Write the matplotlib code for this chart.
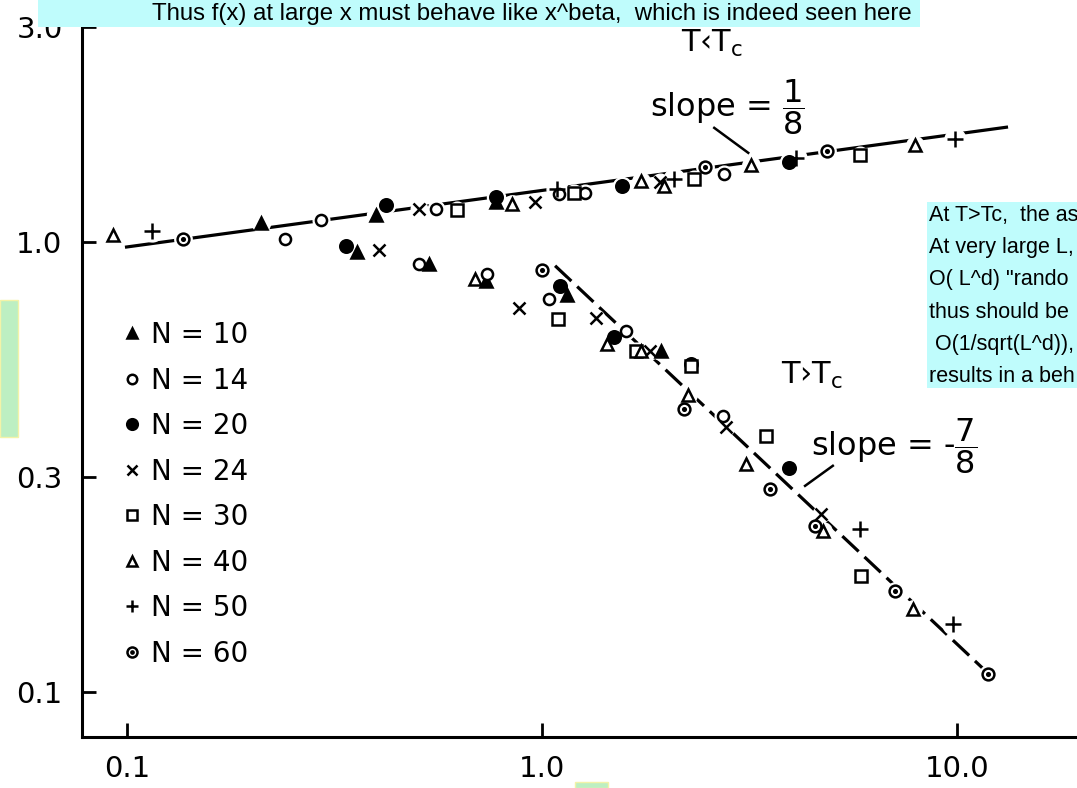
import matplotlib
matplotlib.use('Agg')
import matplotlib.pyplot as plt
from matplotlib.patches import Rectangle
from matplotlib.path import Path
from matplotlib.ticker import NullLocator

plt.rcParams['font.family'] = ['DejaVu Sans']
plt.rcParams['mathtext.fontset'] = 'dejavusans'

# ---------------- data ----------------
# both branches (T<Tc upper, T>Tc lower) share the marker of each N
x_N10 = [0.211, 0.399, 0.775, 0.359, 0.535, 0.733, 1.148, 1.943]
y_N10 = [1.102, 1.148, 1.227, 0.950, 0.894, 0.819, 0.762, 0.573]

x_N14 = [0.241, 0.294, 0.556, 1.099, 1.269, 2.754, 0.506, 0.738, 1.039, 1.592, 2.738]
y_N14 = [1.016, 1.119, 1.184, 1.278, 1.285, 1.416, 0.894, 0.849, 0.747, 0.634, 0.411]

x_N20 = [0.422, 0.775, 1.557, 3.945, 0.338, 1.105, 1.490, 2.294, 3.945]
y_N20 = [1.208, 1.259, 1.332, 1.506, 0.980, 0.798, 0.615, 0.536, 0.315]

x_N24 = [0.506, 0.962, 1.932, 0.406, 0.880, 1.349, 1.828, 2.785, 4.710]
y_N24 = [1.184, 1.227, 1.359, 0.960, 0.713, 0.678, 0.573, 0.388, 0.249]

x_N30 = [0.625, 1.194, 2.332, 5.846, 1.093, 1.683, 2.294, 3.475, 5.880]
y_N30 = [1.178, 1.285, 1.380, 1.561, 0.674, 0.573, 0.530, 0.371, 0.181]

x_N40 = [0.0925, 0.847, 1.739, 1.975, 3.197, 7.930, 0.690, 1.433, 1.739, 2.256, 3.110, 4.760, 7.840]
y_N40 = [1.036, 1.215, 1.366, 1.332, 1.483, 1.643, 0.828, 0.593, 0.573, 0.457, 0.321, 0.228, 0.153]

x_N50 = [0.1148, 1.087, 2.088, 4.100, 9.890, 5.850, 9.780]
y_N50 = [1.058, 1.311, 1.380, 1.537, 1.694, 0.230, 0.1416]

x_N60 = [0.1363, 2.479, 4.870, 1.000, 2.207, 3.552, 4.557, 7.096, 11.870]
y_N60 = [1.016, 1.468, 1.593, 0.867, 0.426, 0.283, 0.234, 0.168, 0.1096]

# guide lines (slope 1/8 below Tc, slope -7/8 above Tc)
upper_fit_x = [0.099, 13.3]
upper_fit_y = [0.973, 1.80]
lower_fit_x = [1.077, 11.6]
lower_fit_y = [0.885, 0.1125]

x_ticks = [0.1, 1.0, 10.0]
x_tick_labels = ['0.1', '1.0', '10.0']
y_ticks = [0.1, 0.3, 1.0, 3.0]
y_tick_labels = ['0.1', '0.3', '1.0', '3.0']

N_labels = ['N = 10', 'N = 14', 'N = 20', 'N = 24', 'N = 30', 'N = 40', 'N = 50', 'N = 60']

# ---------------- figure ----------------
fig = plt.figure(figsize=(10.77, 7.88), dpi=100)
fig.patch.set_facecolor('white')
ax = fig.add_axes([82 / 1077, 51 / 788, 1 - 82 / 1077, (737 - 5) / 788])
ax.set_xscale('log')
ax.set_yscale('log')
ax.set_xlim(0.0780, 19.5)
ax.set_ylim(0.0794, 3.36)

for s in ['top', 'right']:
    ax.spines[s].set_visible(False)
for s in ['left', 'bottom']:
    ax.spines[s].set_linewidth(2.2)

ax.set_xticks(x_ticks)
ax.set_xticklabels(x_tick_labels)
ax.set_yticks(y_ticks)
ax.set_yticklabels(y_tick_labels)
ax.xaxis.set_minor_locator(NullLocator())
ax.yaxis.set_minor_locator(NullLocator())
ax.tick_params(axis='both', direction='in', length=10, width=2, labelsize=21)
ax.tick_params(axis='x', pad=13)
ax.tick_params(axis='y', pad=14)

# fit lines
ax.plot(upper_fit_x, upper_fit_y, color='black', lw=2.3, zorder=2, solid_capstyle='butt')
ax.plot(lower_fit_x, lower_fit_y, color='black', lw=2.3, zorder=2,
        linestyle=(0, (7, 2.5)), dash_capstyle='butt')

# markers
odot = Path.make_compound_path(Path.unit_circle(),
                               Path.circle((0, 0), 0.22))
series = [
    (x_N10, y_N10, '^', 'black', 9),
    (x_N14, y_N14, 'o', 'white', 8),
    (x_N20, y_N20, 'o', 'black', 9),
    (x_N24, y_N24, 'x', 'none', 8),
    (x_N30, y_N30, 's', 'white', 8),
    (x_N40, y_N40, '^', 'white', 8.5),
    (x_N50, y_N50, '+', 'none', 11),
    (x_N60, y_N60, odot, 'white', 8.5),
]
handles = []
for (xs, ys, m, fc, ms), lab in zip(series, N_labels):
    # white halo breaks the guide lines around the symbols
    ax.plot(xs, ys, linestyle='none', marker='o', markersize=ms + 4,
            color='white', markeredgecolor='white', zorder=3)
    h, = ax.plot(xs, ys, linestyle='none', marker=m, markersize=ms,
                 markerfacecolor=fc, markeredgecolor='black',
                 markeredgewidth=1.8, zorder=4, label=lab)
    handles.append(h)

leg = ax.legend(handles=handles, loc='upper left',
                bbox_to_anchor=(0.027, 0.587), frameon=False,
                fontsize=20, handlelength=0.7, handletextpad=0.3,
                labelspacing=0.63, borderpad=0, markerscale=0.85)

# annotations
ax.text(2.576, 2.754, r'T‹T$_{\mathrm{c}}$', fontsize=22, ha='center', va='center')
ax.text(1.828, 1.995, r'slope = $\dfrac{1}{8}$', fontsize=23, ha='left', va='center')
ax.plot([2.605, 3.146], [1.792, 1.577], color='black', lw=1.8, zorder=2)

ax.text(4.48, 0.504, r'T›T$_{\mathrm{c}}$', fontsize=22, ha='center', va='center')
ax.text(4.457, 0.352, r'slope = -$\dfrac{7}{8}$', fontsize=23, ha='left', va='center')
ax.plot([4.312, 5.03], [0.287, 0.318], color='black', lw=1.8, zorder=2)

# overlay boxes (slide annotations)
W, H = 1077.0, 788.0
top_box = Rectangle((38 / W, 1 - 27 / H), (920 - 38) / W, 27 / H,
                    transform=fig.transFigure, facecolor='#BFFCFC',
                    edgecolor='none', zorder=10)
fig.add_artist(top_box)
fig.text(152 / W, 1 - 14 / H,
         'Thus f(x) at large x must behave like x^beta,  which is indeed seen here',
         fontsize=17.3, family='Liberation Sans', ha='left', va='center', zorder=11)

right_box = Rectangle((927 / W, 1 - 388 / H), (W - 927) / W, 186 / H,
                      transform=fig.transFigure, facecolor='#BFFCFC',
                      edgecolor='none', zorder=10)
fig.add_artist(right_box)
right_lines = ['At T>Tc,  the as', 'At very large L,', 'O( L^d) "rando',
               'thus should be', ' O(1/sqrt(L^d)),', 'results in a beh']
for i, line in enumerate(right_lines):
    fig.text(929 / W, 1 - (215 + 32.4 * i) / H, line, fontsize=15.5,
             family='Liberation Sans', ha='left', va='center', zorder=11)

green1 = Rectangle((0, 1 - 437 / H), 18 / W, 137 / H, transform=fig.transFigure,
                   facecolor='#BDEFC2', edgecolor='#F3F3A8', lw=1, zorder=10)
fig.add_artist(green1)
green2 = Rectangle((575 / W, 0), 33 / W, 6 / H, transform=fig.transFigure,
                   facecolor='#BDEFC2', edgecolor='#F3F3A8', lw=1, zorder=10)
fig.add_artist(green2)

fig.savefig('out.png', dpi=100)
